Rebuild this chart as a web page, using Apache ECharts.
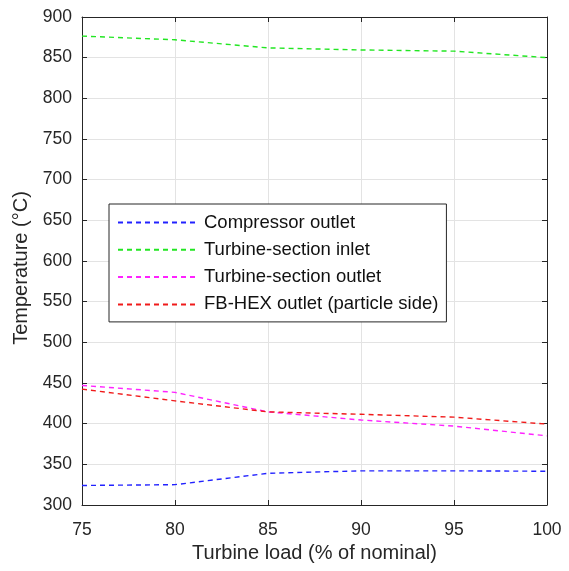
<!DOCTYPE html>
<html>
<head>
<meta charset="utf-8">
<script src="https://cdn.jsdelivr.net/npm/echarts@6/dist/echarts.min.js"></script>
<style>
  html, body { margin: 0; padding: 0; background: #fff; }
  #chart { width: 569px; height: 571px; }
</style>
</head>
<body>
<div id="chart"></div>
<script>
// Turbine load (% of nominal)
const loads = [75, 80, 85, 90, 95, 100];
// Temperatures in °C at each load
const compressorOutlet = [324, 325, 339, 342, 342, 341.5];
const turbineInlet = [876.5, 872, 862, 859.5, 858, 850];
const turbineOutlet = [447, 438.5, 414.5, 404.5, 397, 385];
const fbHexOutlet = [442.5, 428, 414.5, 411.5, 408, 399.5];

const seriesNames = [
  'Compressor outlet',
  'Turbine-section inlet',
  'Turbine-section outlet',
  'FB-HEX outlet (particle side)'
];
const seriesValues = [compressorOutlet, turbineInlet, turbineOutlet, fbHexOutlet];
const seriesColors = ['#2222ff', '#22e622', '#ff22ff', '#f01a1a'];

const axisColor = '#262626';
const gridColor = '#e3e3e3';
const font = 'Liberation Sans, Arial, sans-serif';

function pairs(vals) {
  return loads.map((x, i) => [x, vals[i]]);
}

const chart = echarts.init(document.getElementById('chart'));

const baseAxis = {
  axisLine: { show: true, onZero: false, lineStyle: { color: axisColor, width: 1 } },
  axisTick: { show: true, inside: true, length: 5, lineStyle: { color: axisColor } },
  axisLabel: { color: axisColor, fontSize: 17.5, fontFamily: font },
  splitLine: { show: false }
};

chart.setOption({
  animation: false,
  backgroundColor: '#fff',
  grid: { left: 82, right: 22, top: 17, bottom: 66, containLabel: false },
  xAxis: [
    Object.assign({}, baseAxis, {
      type: 'value', min: 75, max: 100, interval: 5, position: 'bottom',
      name: 'Turbine load (% of nominal)', nameLocation: 'middle', nameGap: 38,
      nameTextStyle: { color: axisColor, fontSize: 20, fontFamily: font },
      axisLabel: Object.assign({}, baseAxis.axisLabel, { margin: 16 }),
      splitLine: { show: true, lineStyle: { color: gridColor, width: 1 } }
    }),
    Object.assign({}, baseAxis, {
      type: 'value', min: 75, max: 100, interval: 5, position: 'top',
      axisLabel: { show: false }
    })
  ],
  yAxis: [
    Object.assign({}, baseAxis, {
      type: 'value', min: 300, max: 900, interval: 50, position: 'left',
      name: 'Temperature (°C)', nameLocation: 'middle', nameGap: 49,
      nameTextStyle: { color: axisColor, fontSize: 20, fontFamily: font, padding: [0, 14, 0, 0] },
      axisLabel: Object.assign({}, baseAxis.axisLabel, { margin: 10 }),
      splitLine: { show: true, lineStyle: { color: gridColor, width: 1 } }
    }),
    Object.assign({}, baseAxis, {
      type: 'value', min: 300, max: 900, interval: 50, position: 'right',
      axisLabel: { show: false }
    })
  ],
  legend: {
    orient: 'vertical',
    left: 109,
    top: 204,
    padding: [9, 8, 8, 8],
    itemGap: 8.3,
    itemWidth: 80,
    itemHeight: 14,
    backgroundColor: '#fff',
    borderColor: axisColor,
    borderWidth: 1,
    borderRadius: 0,
    itemStyle: { opacity: 0 },
    textStyle: { color: '#111', fontSize: 18.5, fontFamily: font, width: 239, padding: [0, 0, 0, 1] },
    data: seriesNames
  },
  series: seriesNames.map((name, i) => ({
    name: name,
    type: 'line',
    xAxisIndex: 0,
    yAxisIndex: 0,
    data: pairs(seriesValues[i]),
    symbol: 'none',
    showSymbol: false,
    smooth: false,
    color: seriesColors[i],
    lineStyle: { color: seriesColors[i], width: 1.4, type: [5, 4] },
    z: 3
  }))
});
</script>
</body>
</html>
